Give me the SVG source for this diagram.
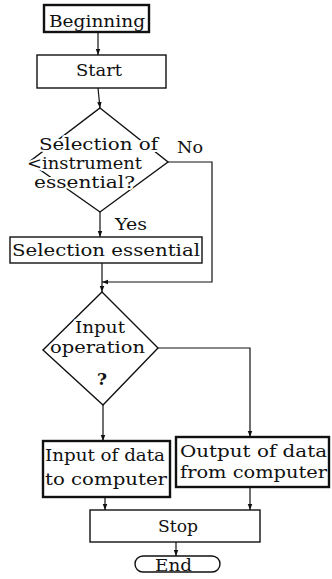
<svg xmlns="http://www.w3.org/2000/svg" width="332" height="579" viewBox="0 0 332 579">
<defs>
<marker id="ah" viewBox="0 0 8 8" refX="8" refY="4" markerWidth="6" markerHeight="6" orient="auto" markerUnits="userSpaceOnUse">
<path d="M0,1 L8,4 L0,7 Z" fill="#111"/>
</marker>
</defs>
<style>
.box{fill:#fff;stroke:#111;stroke-width:1.4}
.thick{fill:#fff;stroke:#111;stroke-width:2.4}
.dia{fill:none;stroke:#111;stroke-width:1.4}
.t{font-family:"DejaVu Serif","Liberation Serif",serif;font-size:17px;fill:#111}
.s{font-size:16px}
.halo{paint-order:stroke;stroke:#fff;stroke-width:4px;stroke-linejoin:round}
.c{fill:none;stroke:#111;stroke-width:1.2}
</style>
<rect width="332" height="579" fill="#fff"/>
<g id="connectors">
<line class="c" x1="98" y1="32" x2="98" y2="55" marker-end="url(#ah)"/>
<line class="c" x1="98" y1="88" x2="100" y2="108" marker-end="url(#ah)"/>
<line class="c" x1="100" y1="212" x2="100" y2="237" marker-end="url(#ah)"/>
<polyline class="c" points="168,162 212,162 212,282 102,282" marker-end="url(#ah)"/>
<line class="c" x1="102" y1="263" x2="102" y2="292" marker-end="url(#ah)"/>
<polyline class="c" points="158,348 250,348 250,437" marker-end="url(#ah)"/>
<line class="c" x1="103" y1="405" x2="103" y2="441" marker-end="url(#ah)"/>
<line class="c" x1="105" y1="497" x2="105" y2="510" marker-end="url(#ah)"/>
<line class="c" x1="250" y1="487" x2="250" y2="510" marker-end="url(#ah)"/>
<line class="c" x1="176" y1="542" x2="176" y2="556" marker-end="url(#ah)"/>
<text class="t" x="115" y="230" textLength="32" lengthAdjust="spacingAndGlyphs">Yes</text>
<text class="t" x="177" y="153" textLength="26" lengthAdjust="spacingAndGlyphs">No</text>
</g>
<g id="beginning">
<rect class="thick" x="44" y="5" width="105" height="27"/>
<text class="t" x="49" y="27" textLength="96" lengthAdjust="spacingAndGlyphs">Beginning</text>
</g>
<g id="start">
<rect class="box" x="37" y="55" width="129" height="33"/>
<text class="t" x="76" y="76" textLength="46" lengthAdjust="spacingAndGlyphs">Start</text>
</g>
<g id="decision1">
<polygon class="dia" points="100,108 168,162 100,212 29,162"/>
<text class="t s halo" x="39" y="150" textLength="119" lengthAdjust="spacingAndGlyphs">Selection of</text>
<text class="t s halo" x="27" y="169" textLength="115" lengthAdjust="spacingAndGlyphs">&lt;instrument</text>
<text class="t s halo" x="34" y="188" textLength="101" lengthAdjust="spacingAndGlyphs">essential?</text>
</g>
<g id="selection">
<rect class="box" x="10" y="237" width="192" height="26"/>
<text class="t" x="12" y="256" textLength="188" lengthAdjust="spacingAndGlyphs">Selection essential</text>
</g>
<g id="decision2">
<polygon class="dia" points="102,292 158,348 103,405 43,350"/>
<text class="t halo" x="75" y="333" textLength="50" lengthAdjust="spacingAndGlyphs">Input</text>
<text class="t halo" x="50" y="353" textLength="95" lengthAdjust="spacingAndGlyphs">operation</text>
<text class="t" x="102" y="385" text-anchor="middle" font-weight="bold">?</text>
</g>
<g id="input">
<rect class="thick" x="43" y="441" width="127" height="56"/>
<text class="t" x="45" y="461" textLength="120" lengthAdjust="spacingAndGlyphs">Input of data</text>
<text class="t" x="45" y="485" textLength="122" lengthAdjust="spacingAndGlyphs">to computer</text>
</g>
<g id="output">
<rect class="thick" x="176" y="437" width="153" height="50"/>
<text class="t" x="180" y="457" textLength="147" lengthAdjust="spacingAndGlyphs">Output of data</text>
<text class="t" x="180" y="478" textLength="147" lengthAdjust="spacingAndGlyphs">from computer</text>
</g>
<g id="stop">
<rect class="box" x="90" y="510" width="170" height="32"/>
<text class="t" x="158" y="532" textLength="40" lengthAdjust="spacingAndGlyphs">Stop</text>
</g>
<g id="end">
<rect class="box" x="135" y="556" width="85" height="16" rx="8" ry="8"/>
<text class="t" x="155" y="571" textLength="37" lengthAdjust="spacingAndGlyphs">End</text>
</g>
</svg>
